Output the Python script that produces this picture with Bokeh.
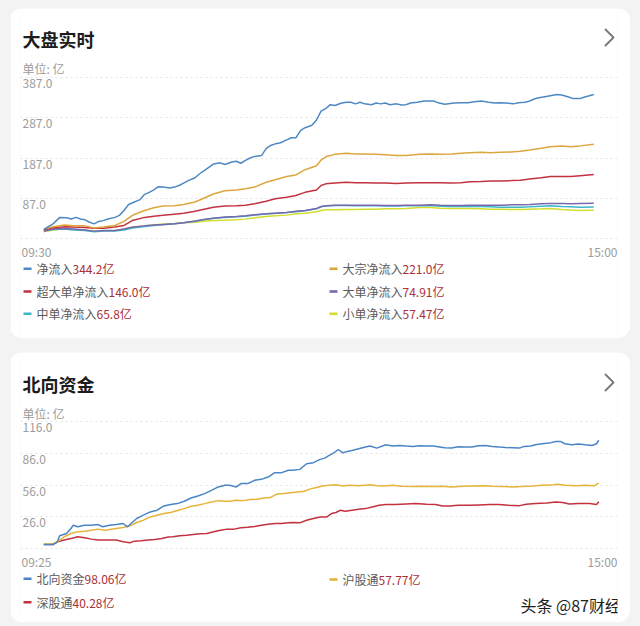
from bokeh.plotting import figure
from bokeh.models import Label, BoxAnnotation, FixedTicker, Range1d, PolyAnnotation, Grid, Spacer
from bokeh.layouts import column, row
from bokeh.core.properties import value
from bokeh.embed import file_html
from bokeh.resources import INLINE

FONT = "Noto Sans CJK SC"

# ---------------- Panel 1: 大盘实时 (trading minutes from 09:30, 0..240) ----------------
p1_title = "大盘实时"
p1_unit = "单位: 亿"
p1_yticks = [387.0, 287.0, 187.0, 87.0, -13.0]
p1_ytick_labels = ["387.0", "287.0", "187.0", "87.0", ""]
p1_xtick_labels = ["09:30", "15:00"]
p1_t_end = 240

net_t = [0, 4, 7, 10, 12, 14, 16, 18, 20, 22,
         24, 26, 28, 31, 33, 35, 37, 39, 42, 44,
         46, 48, 50, 52, 55, 57, 59, 61, 63, 66,
         68, 70, 72, 74, 77, 79, 82, 84, 86, 88,
         90, 92, 95, 97, 99, 101, 103, 106, 108, 110,
         112, 114, 117, 119, 121, 123, 125, 127, 130, 132,
         134, 136, 138, 140, 143, 145, 147, 149, 151, 154,
         156, 158, 160, 163, 166, 170, 172, 175, 179, 182,
         185, 188, 191, 194, 197, 199, 202, 205, 207, 210,
         212, 214, 216, 218, 221, 224, 226, 229, 231, 234,
         236, 238, 240]
net_v = [10, 24, 40, 39, 36, 40, 36, 34, 28, 24,
         30, 32, 36, 40, 45, 57, 72, 77, 84, 97,
         102, 108, 116, 115, 113, 115, 119, 125, 131, 138,
         148, 156, 164, 172, 175, 171, 177, 179, 174, 181,
         187, 191, 193, 210, 218, 222, 224, 232, 237, 237,
         255, 262, 268, 281, 303, 309, 319, 317, 323, 325,
         325, 321, 325, 321, 319, 323, 321, 323, 319, 321,
         318, 319, 323, 325, 328, 328, 324, 320, 323, 324,
         324, 326, 328, 325, 323, 324, 323, 321, 324, 325,
         328, 333, 336, 338, 341, 344, 343, 338, 334, 334,
         338, 341, 344.2]

grid_t = [0, 4, 9, 13, 18, 22, 26, 31, 35, 39,
          44, 48, 52, 57, 61, 66, 70, 74, 79, 84,
          88, 92, 97, 101, 106, 110, 114, 119, 121, 123,
          127, 132, 136, 140, 145, 149, 154, 158, 164, 169,
          173, 178, 182, 186, 191, 195, 199, 204, 208, 212,
          217, 221, 226, 230, 234, 240]
block_v = [11, 17, 21, 19, 19, 14, 16, 20, 30, 46,
           57, 64, 68, 69, 72, 78, 88, 98, 106, 108,
           111, 115, 127, 133, 141, 145, 158, 168, 182, 190,
           196, 199, 197, 197, 196, 195, 193, 193, 196, 197,
           196, 197, 199, 200, 201, 200, 201, 202, 204, 207,
           211, 215, 217, 215, 217, 221.0]
xl_v = [9, 14, 17, 16, 15, 13, 13, 16, 20, 33,
        40, 43, 45, 48, 50, 55, 60, 65, 68, 69,
        70, 74, 80, 86, 90, 94, 102, 108, 119, 123,
        125, 127, 126, 126, 125, 125, 124, 125, 126, 126,
        126, 125, 126, 128, 129, 130, 130, 131, 132, 135,
        138, 141, 141, 141, 143, 146.0]
l_v = [6, 11, 12.6, 11, 9, 6, 7.6, 7.6, 11, 16,
       19, 21, 22.5, 24, 27, 31, 35, 38, 41, 42,
       44, 46.5, 49, 50.5, 52, 55, 57, 62, 67, 69,
       70, 70, 70, 70, 70, 69.5, 69.5, 70, 70.3, 71,
       70.3, 69.5, 69.5, 70.3, 70.3, 70.3, 70.3, 71, 71, 72,
       73.6, 74.4, 74.4, 73.6, 74.4, 74.91]
m_v = [6, 10, 11, 9, 7.6, 4.5, 6, 6, 9, 14,
       17.5, 20, 21.6, 24, 27, 30.5, 34.5, 38, 40, 41.5,
       43, 46, 48.5, 50, 52, 54, 56.5, 61.5, 66, 68,
       69.5, 69.5, 69, 68.7, 68.5, 68, 68, 68.5, 68.7, 69.5,
       67.8, 67, 67, 67, 67, 66.2, 65.4, 65.4, 65.4, 66.2,
       67.8, 68.7, 67, 66.2, 65.4, 65.8]
s_v = [4.5, 9, 11, 10, 8.4, 6, 6.8, 7.6, 11, 16,
       19, 21.6, 23.3, 25, 26.6, 28.2, 30.7, 32.4, 33, 34,
       35.7, 39, 42.3, 44, 45.6, 49, 50.5, 53.8, 57, 58.8,
       58.8, 59.6, 59.6, 60.4, 60.4, 61.2, 61.2, 62, 64.5, 64.5,
       62.9, 62, 62, 62, 61.2, 60.4, 60.4, 59.6, 59.6, 60.4,
       61.2, 62, 59.6, 58, 57.1, 57.47]

p1_names = ["净流入", "大宗净流入", "超大单净流入", "大单净流入", "中单净流入", "小单净流入"]
p1_values = ["344.2亿", "221.0亿", "146.0亿", "74.91亿", "65.8亿", "57.47亿"]
p1_colors = ["#4f88c2", "#dca63e", "#c23340", "#7a68ae", "#3db6c8", "#d3dd2e"]

# ---------------- Panel 2: 北向资金 (minutes from 09:25, 0..245) ----------------
p2_title = "北向资金"
p2_unit = "单位: 亿"
p2_yticks = [116.0, 86.0, 56.0, 26.0, -4.0]
p2_ytick_labels = ["116.0", "86.0", "56.0", "26.0", ""]
p2_xtick_labels = ["09:25", "15:00"]
p2_t_end = 245

nb_t = [0, 4, 6, 7, 10, 12, 13, 15, 18, 21,
        24, 26, 29, 32, 35, 37, 39, 41, 44, 47,
        50, 53, 56, 59, 62, 65, 68, 71, 74, 77,
        80, 82, 85, 87, 90, 93, 96, 99, 102, 105,
        108, 110, 113, 116, 119, 122, 124, 126, 128, 130,
        132, 134, 136, 139, 142, 144, 147, 151, 154, 157,
        160, 163, 166, 169, 172, 174, 177, 180, 183, 186,
        189, 192, 195, 198, 201, 204, 207, 210, 212, 215,
        217, 220, 223, 226, 228, 230, 233, 236, 239, 242,
        244, 245]
nb_v = [0, 0, 2.6, 8.2, 10.4, 15.1, 18.2, 16.7, 18.2, 18.2,
        18.8, 16.7, 18.2, 18.8, 19.8, 16.7, 20.7, 24.5, 27.6, 30.7,
        32.3, 36.3, 37.6, 38.5, 40.7, 43.8, 45.7, 47.9, 51.0, 54.2,
        55.7, 55.7, 54.2, 57.3, 57.3, 60.4, 61.3, 63.5, 67.6, 67.6,
        69.8, 69.8, 70.7, 76, 77, 80.1, 81.3, 83.8, 86.3, 89.4,
        86.3, 87.6, 88.5, 90.1, 91.7, 92.6, 90.7, 93.8, 92.6, 93.2,
        92.6, 92.3, 92.9, 92.6, 92.6, 92, 91, 90.7, 92, 91.7,
        91.7, 92.9, 93.2, 92.3, 91.7, 91.3, 91, 90.7, 92.3, 92.6,
        93.8, 94.8, 95.4, 97, 97, 94.8, 93.8, 94.5, 93.8, 93.2,
        94.8, 98.06]

hgt_t = [0, 4, 6, 9, 12, 15, 18, 21, 24, 27,
         29, 32, 35, 38, 41, 44, 47, 50, 53, 56,
         59, 62, 65, 68, 71, 74, 77, 80, 82, 85,
         88, 91, 94, 97, 100, 103, 106, 109, 112, 115,
         118, 121, 123, 126, 129, 132, 135, 139, 144, 147,
         150, 154, 158, 163, 167, 172, 176, 180, 185, 189,
         194, 198, 203, 207, 211, 216, 220, 225, 227, 230,
         235, 239, 243, 245]
hgt_v = [0.5, 0.5, 2.6, 7.3, 10.4, 12, 12.6, 13.5, 14.5, 13.5,
         14.2, 15.1, 16, 17.6, 20.7, 22.9, 26, 27.6, 29.1, 30.1,
         32, 33.8, 36, 37, 38.5, 40.1, 41.3, 40.7, 40.7, 41.6,
         41.3, 42.3, 42.6, 43.8, 44.2, 47.6, 47.9, 48.8, 49.5, 50.1,
         52.6, 53.8, 55.1, 55.7, 56.3, 55.1, 55.7, 55.4, 56.3, 55.4,
         55.1, 55.7, 54.8, 54.5, 54.8, 54.5, 54.8, 54.2, 54.8, 55.1,
         55.4, 54.8, 54.5, 54.2, 54.5, 55.1, 55.7, 56.3, 56.6, 55.7,
         55.4, 55.7, 55.4, 57.77]

sgt_t = [0, 4, 6, 9, 12, 15, 18, 21, 24, 27,
         29, 32, 35, 38, 40, 43, 46, 49, 52, 55,
         57, 60, 63, 66, 69, 72, 75, 78, 81, 84,
         87, 90, 93, 96, 99, 102, 105, 108, 110, 113,
         116, 119, 122, 125, 127, 129, 131, 133, 136, 139,
         142, 145, 148, 151, 155, 160, 164, 169, 173, 176,
         179, 183, 188, 192, 197, 201, 205, 210, 213, 217,
         222, 226, 229, 232, 236, 241, 244, 245]
sgt_v = [0, 0, 2.6, 4.2, 5.7, 7.3, 6.3, 5.1, 4.2, 4.2,
         4.2, 4.2, 2.6, 1.7, 3.2, 3.5, 4.2, 4.8, 5.7, 7,
         7.3, 8.2, 8.8, 9.5, 10.1, 10.4, 12, 13.5, 14.5, 14.5,
         15.7, 16.3, 17, 18.2, 19.1, 19.8, 19.8, 20.4, 20.7, 20.4,
         22.9, 24.5, 26, 26, 29.1, 30.1, 32.3, 31.3, 32.3, 33.2,
         33.8, 35.4, 37, 37.6, 37.6, 38.2, 38.5, 37.9, 37.6, 36.3,
         36.3, 37, 37, 37.3, 37.6, 37.6, 37, 36.6, 37.9, 38.5,
         39.1, 40.1, 39.5, 38.2, 38.5, 38.5, 37.6, 40.28]

p2_names = ["北向资金", "沪股通", "深股通"]
p2_values = ["98.06亿", "57.77亿", "40.28亿"]
p2_colors = ["#4a86c5", "#e5b43a", "#c2323f"]

watermark = "头条 @87财经"

# ---------------- layout helpers (page pixel geometry) ----------------
CARD_L, CARD_R = 10, 630
CARD_W = CARD_R - CARD_L
FRAME_L, FRAME_R = 20, 617
GRID_COLOR = "#e4e4e4"
TICK_COLOR = "#9c9c9c"
NAME_COLOR = "#5a5a5a"
VALUE_COLOR = "#aa3039"
PAGE_BG = "#f3f3f3"


def lin(va, pa, vb, pb, px):
    return va + (px - pa) * (vb - va) / (pb - pa)


def make_panel(page_top, height, t_end, x0_px, x1_px, yticks, ytop_px, ybot_px,
               ytick_labels, xtick_labels, title, unit, title_y, unit_y):
    page_bottom = page_top + height
    xs = lin(0, x0_px, t_end, x1_px, FRAME_L)
    xe = lin(0, x0_px, t_end, x1_px, FRAME_R)
    ys = lin(yticks[0], ytop_px, yticks[-1], ybot_px, page_bottom)
    ye = lin(yticks[0], ytop_px, yticks[-1], ybot_px, page_top)
    p = figure(width=CARD_W, height=height, x_range=Range1d(xs, xe), y_range=Range1d(ys, ye),
               output_backend="svg", toolbar_location=None, tools="",
               x_axis_location=None, y_axis_location=None,
               min_border_left=FRAME_L - CARD_L, min_border_right=CARD_R - FRAME_R,
               min_border_top=0, min_border_bottom=0,
               background_fill_color="white", border_fill_color="white",
               outline_line_color=None)
    p.xgrid.visible = False
    p.ygrid.visible = False
    p.add_layout(Grid(dimension=1, ticker=FixedTicker(ticks=yticks),
                      grid_line_color=GRID_COLOR, grid_line_dash="2 3", grid_line_width=1))
    # y tick labels (inside the frame, just under each grid line)
    p.text(x=[xs] * len(yticks), y=yticks, text=ytick_labels, x_offset=2, y_offset=1.5,
           text_align="left", text_baseline="top", text_font=value(FONT),
           text_font_size="12px", text_color=TICK_COLOR)
    # x tick labels under the bottom grid line
    p.text(x=[xs], y=[yticks[-1]], text=[xtick_labels[0]], x_offset=1, y_offset=4,
           text_align="left", text_baseline="top", text_font=value(FONT),
           text_font_size="12px", text_color=TICK_COLOR)
    p.text(x=[xe], y=[yticks[-1]], text=[xtick_labels[1]], x_offset=0, y_offset=4,
           text_align="right", text_baseline="top", text_font=value(FONT),
           text_font_size="12px", text_color=TICK_COLOR)

    def label(X, Y, text, size="12px", color=NAME_COLOR, bold=False, align="left", font=FONT):
        p.add_layout(Label(x=X - FRAME_L, y=page_bottom - Y, x_units="screen", y_units="screen",
                           text=text, text_font=font, text_font_size=size, text_color=color,
                           text_align=align, text_baseline="middle",
                           text_font_style="bold" if bold else "normal"))

    label(22, title_y, title, size="18px", color="#1c1c1c", bold=True)
    label(22, unit_y, unit, size="12px", color=TICK_COLOR)
    # chevron
    cy = title_y - 1
    p.add_layout(PolyAnnotation(xs=[605 - FRAME_L, 613 - FRAME_L, 605 - FRAME_L, 613 - FRAME_L],
                                ys=[page_bottom - (cy - 8), page_bottom - cy,
                                    page_bottom - (cy + 8), page_bottom - cy],
                                xs_units="screen", ys_units="screen",
                                fill_color=None, fill_alpha=0, line_color="#777777",
                                line_alpha=1.0, line_width=1.8,
                                line_join="round", line_cap="round"))

    def legend_item(X, Y, name, val, color):
        p.add_layout(BoxAnnotation(left=X - 13 - FRAME_L, right=X - 5 - FRAME_L,
                                   bottom=page_bottom - (Y + 1.3), top=page_bottom - (Y - 1.3),
                                   left_units="screen", right_units="screen",
                                   top_units="screen", bottom_units="screen",
                                   fill_color=color, fill_alpha=1, line_color=None))
        label(X, Y, name)
        label(X + 12 * len(name), Y, val, color=VALUE_COLOR)

    p.styles = {"border-radius": "12px", "overflow": "hidden"}
    return p, label, legend_item


# ---------------- Panel 1 ----------------
P1_TOP, P1_H = 8, 330
P2_TOP, P2_H = 352, 270
p1, lab1, leg1 = make_panel(page_top=P1_TOP, height=P1_H, t_end=p1_t_end, x0_px=43.3, x1_px=593.3,
                            yticks=p1_yticks, ytop_px=76.7, ybot_px=238.3,
                            ytick_labels=p1_ytick_labels, xtick_labels=p1_xtick_labels,
                            title=p1_title, unit=p1_unit, title_y=38, unit_y=68)
series1 = [(net_t, net_v), (grid_t, block_v), (grid_t, xl_v), (grid_t, l_v), (grid_t, m_v), (grid_t, s_v)]
for i in [5, 4, 3, 2, 1, 0]:
    t, v = series1[i]
    p1.line(t, v, line_color=p1_colors[i], line_width=1.5)
rows1 = [268.3, 291, 313.3]
cols = [36, 342]
for i, (nm, vl, c) in enumerate(zip(p1_names, p1_values, p1_colors)):
    leg1(cols[i % 2], rows1[i // 2], nm, vl, c)

# ---------------- Panel 2 ----------------
p2, lab2, leg2 = make_panel(page_top=P2_TOP, height=P2_H, t_end=p2_t_end, x0_px=43.3, x1_px=598.3,
                            yticks=p2_yticks, ytop_px=420.7, ybot_px=548.3,
                            ytick_labels=p2_ytick_labels, xtick_labels=p2_xtick_labels,
                            title=p2_title, unit=p2_unit, title_y=383, unit_y=413)
series2 = [(nb_t, nb_v), (hgt_t, hgt_v), (sgt_t, sgt_v)]
for i in [2, 1, 0]:
    t, v = series2[i]
    p2.line(t, v, line_color=p2_colors[i], line_width=1.5)
leg_pos2 = [(36, 578.3), (342, 579), (36, 601.7)]
for (X, Y), nm, vl, c in zip(leg_pos2, p2_names, p2_values, p2_colors):
    leg2(X, Y, nm, vl, c)
# side handle dots
for dy in (448, 455, 462):
    lab2(622, dy, "•", size="8px", color="#b0b0b0", align="center", font="DejaVu Sans")
lab2(520, 604, watermark, size="16px", color="#1e1e1e")

bg = {"background-color": PAGE_BG}
layout = column(
    Spacer(width=640, height=P1_TOP, styles=bg),
    row(Spacer(width=CARD_L, height=P1_H, styles=bg), p1, Spacer(width=640 - CARD_R, height=P1_H, styles=bg)),
    Spacer(width=640, height=P2_TOP - P1_TOP - P1_H, styles=bg),
    row(Spacer(width=CARD_L, height=P2_H, styles=bg), p2, Spacer(width=640 - CARD_R, height=P2_H, styles=bg)),
    Spacer(width=640, height=626 - P2_TOP - P2_H, styles=bg),
    styles=bg,
)

open("out.html", "w").write(file_html(layout, INLINE))
